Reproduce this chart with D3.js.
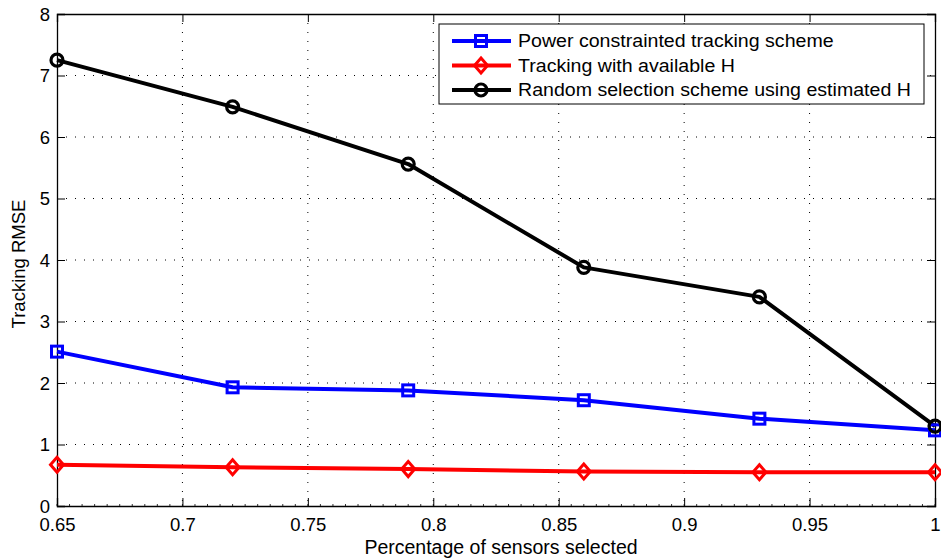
<!DOCTYPE html>
<html>
<head>
<meta charset="utf-8">
<script src="https://cdn.jsdelivr.net/npm/d3@7"></script>
<style>
  body { margin: 0; background: #fff; }
  text { font-family: "Liberation Sans", Arial, sans-serif; fill: #000; }
</style>
</head>
<body>
<div id="myChart"></div>
<script>
// data
let xValues = [0.65, 0.72, 0.79, 0.86, 0.93, 1.0];
let powerConstrained = [2.51, 1.93, 1.88, 1.72, 1.42, 1.23];
let availableH = [0.67, 0.63, 0.60, 0.56, 0.55, 0.55];
let randomSelection = [7.25, 6.49, 5.56, 3.88, 3.40, 1.30];
let xTicks = [0.65, 0.7, 0.75, 0.8, 0.85, 0.9, 0.95, 1];
let yTicks = [0, 1, 2, 3, 4, 5, 6, 7, 8];
let seriesNames = ["Power constrainted tracking scheme", "Tracking with available H", "Random selection scheme using estimated H"];

let series = [
  {name: seriesNames[0], values: powerConstrained, color: "#0000ff", marker: "square"},
  {name: seriesNames[1], values: availableH, color: "#ff0000", marker: "diamond"},
  {name: seriesNames[2], values: randomSelection, color: "#000000", marker: "circle"}
];

// set the dimensions and margins of the graph
let margin = {top: 14, right: 6, bottom: 54, left: 57},
    width = 941 - margin.left - margin.right,
    height = 560 - margin.top - margin.bottom;

let svg = d3.select("#myChart")
  .append("svg")
    .attr("width", 941)
    .attr("height", 560)
  .append("g")
    .attr("transform", "translate(" + margin.left + "," + margin.top + ")");

let x = d3.scaleLinear().domain([0.65, 1]).range([0, width]);
let y = d3.scaleLinear().domain([0, 8]).range([height, 0]);

// dotted grid
svg.append("g").selectAll("line")
  .data(xTicks.slice(1, -1))
  .enter().append("line")
    .attr("x1", d => x(d)).attr("x2", d => x(d))
    .attr("y1", 0).attr("y2", height)
    .attr("stroke", "#000").attr("stroke-width", 1)
    .attr("stroke-dasharray", "1,8");
svg.append("g").selectAll("line")
  .data(yTicks.slice(1, -1))
  .enter().append("line")
    .attr("x1", 0).attr("x2", width)
    .attr("y1", d => y(d)).attr("y2", d => y(d))
    .attr("stroke", "#000").attr("stroke-width", 1)
    .attr("stroke-dasharray", "1,8");

// minor ticks on the bottom axis
let minor = d3.range(0, 71).map(i => 0.65 + i * 0.005);
svg.append("g").selectAll("line")
  .data(minor)
  .enter().append("line")
    .attr("x1", d => x(d)).attr("x2", d => x(d))
    .attr("y1", height).attr("y2", height - 2)
    .attr("stroke", "#000").attr("stroke-width", 0.8);

// axes, ticks pointing inward on all four sides
let xAxis = svg.append("g")
  .attr("transform", "translate(0," + height + ")")
  .call(d3.axisBottom(x).tickValues(xTicks).tickSize(-8).tickFormat(d3.format("")));
let xTop = svg.append("g")
  .call(d3.axisTop(x).tickValues(xTicks).tickSize(-8).tickFormat(""));
let yAxis = svg.append("g")
  .call(d3.axisLeft(y).tickValues(yTicks).tickSize(-8));
let yRight = svg.append("g")
  .attr("transform", "translate(" + width + ",0)")
  .call(d3.axisRight(y).tickValues(yTicks).tickSize(-8).tickFormat(""));

[xAxis, xTop, yAxis, yRight].forEach(function(a) {
  a.select(".domain").attr("stroke", "#000").attr("stroke-width", 1.3);
  a.selectAll(".tick line").attr("stroke", "#000").attr("stroke-width", 1);
  a.selectAll("text").style("font-size", "18.5px").attr("fill", "#000");
});
xAxis.selectAll("text").attr("y", 25).attr("dy", 0);
yAxis.selectAll("text").attr("x", -7).attr("dy", "0.34em");

// lines
let line = d3.line()
  .x((d, i) => x(xValues[i]))
  .y(d => y(d));

series.forEach(function(s) {
  svg.append("path")
    .datum(s.values)
    .attr("fill", "none")
    .attr("stroke", s.color)
    .attr("stroke-width", 4)
    .attr("stroke-linejoin", "round")
    .attr("d", line);
});

function drawMarker(g, type, color, cx, cy) {
  if (type === "square") {
    g.append("rect")
      .attr("x", cx - 5.5).attr("y", cy - 5.5)
      .attr("width", 11).attr("height", 11)
      .attr("fill", "none").attr("stroke", color).attr("stroke-width", 3);
  } else if (type === "diamond") {
    g.append("path")
      .attr("d", "M" + cx + "," + (cy - 7.5) + "L" + (cx + 6.5) + "," + cy + "L" + cx + "," + (cy + 7.5) + "L" + (cx - 6.5) + "," + cy + "Z")
      .attr("fill", "none").attr("stroke", color).attr("stroke-width", 3);
  } else {
    g.append("circle")
      .attr("cx", cx).attr("cy", cy).attr("r", 6)
      .attr("fill", "none").attr("stroke", color).attr("stroke-width", 3.2);
  }
}

// markers
series.forEach(function(s) {
  let g = svg.append("g");
  s.values.forEach(function(v, i) {
    drawMarker(g, s.marker, s.color, x(xValues[i]), y(v));
  });
});

// legend
let legend = svg.append("g").attr("transform", "translate(" + (439 - margin.left) + "," + (24 - margin.top) + ")");
legend.append("rect")
  .attr("width", 485).attr("height", 80)
  .attr("fill", "#fff").attr("stroke", "#000").attr("stroke-width", 1);
series.forEach(function(s, i) {
  let ly = 17 + i * 24.5;
  legend.append("line")
    .attr("x1", 13).attr("x2", 72).attr("y1", ly).attr("y2", ly)
    .attr("stroke", s.color).attr("stroke-width", 4);
  drawMarker(legend, s.marker, s.color, 42, ly);
  legend.append("text")
    .attr("x", 79).attr("y", ly)
    .attr("dy", "0.35em")
    .attr("transform", "translate(79,0) scale(1.12,1) translate(-79,0)")
    .style("font-size", "17.5px")
    .text(s.name);
});

// axis labels
svg.append("text")
  .attr("x", width / 2 + 5)
  .attr("y", height + 48)
  .attr("text-anchor", "middle")
  .style("font-size", "19.5px")
  .text("Percentage of sensors selected");

svg.append("text")
  .attr("transform", "translate(" + (25 - margin.left) + "," + (height / 2 + 4) + ") rotate(-90)")
  .attr("text-anchor", "middle")
  .style("font-size", "18.5px")
  .text("Tracking RMSE");
</script>
</body>
</html>
